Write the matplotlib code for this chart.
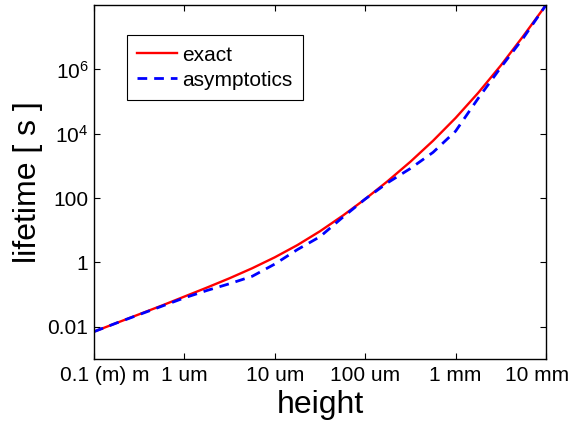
import numpy as np
import matplotlib
matplotlib.use('Agg')
import matplotlib.pyplot as plt
from matplotlib.transforms import ScaledTranslation

plt.rcParams['font.family'] = ['Liberation Sans', 'DejaVu Sans']
plt.rcParams['mathtext.fontset'] = 'custom'
plt.rcParams['mathtext.rm'] = 'Liberation Sans'
plt.rcParams['mathtext.it'] = 'Liberation Sans'

# log10 of height [m], sampled every quarter decade
height_exp = [-7.00, -6.75, -6.50, -6.25, -6.00, -5.75, -5.50, -5.25, -5.00, -4.75, -4.50,
              -4.25, -4.00, -3.75, -3.50, -3.25, -3.00, -2.75, -2.50, -2.25, -2.00]
# log10 of lifetime [s]
exact_exp = [-2.15, -1.88, -1.61, -1.34, -1.06, -0.78, -0.49, -0.18, 0.16, 0.54, 0.97,
             1.45, 1.97, 2.53, 3.13, 3.78, 4.49, 5.27, 6.12, 7.04, 8.00]
asym_exp = [-2.15, -1.88, -1.62, -1.36, -1.10, -0.87, -0.66, -0.43, -0.05, 0.40, 0.80,
            1.40, 1.97, 2.48, 2.92, 3.42, 4.08, 5.10, 6.06, 6.98, 8.00]

xtick_vals = [1e-7, 1e-6, 1e-5, 1e-4, 1e-3, 1e-2]
xtick_labels = ['0.1 (m) m', '1 um', '10 um', '100 um', '1 mm', '10 mm']
ytick_vals = [1e-2, 1, 1e2, 1e4, 1e6]
ytick_labels = ['0.01', '1', '100', '$10^4$', '$10^6$']

h = 10.0 ** np.array(height_exp)
t_exact = 10.0 ** np.array(exact_exp)
t_asym = 10.0 ** np.array(asym_exp)

fig = plt.figure(figsize=(5.78, 4.21), dpi=100)
ax = fig.add_axes([94/578, 1 - 359/421, 452/578, 354/421])

ax.loglog(h, t_exact, color='red', lw=1.7, label='exact')
ax.loglog(h, t_asym, color='blue', lw=2.0, ls=(0, (3.5, 2.5)), label='asymptotics')

ax.set_xlim(1e-7, 1e-2)
ax.set_ylim(1e-3, 1e8)
ax.set_xticks(xtick_vals)
ax.set_xticklabels(xtick_labels)
ax.set_yticks(ytick_vals)
ax.set_yticklabels(ytick_labels)
ax.minorticks_off()
ax.tick_params(direction='in', top=True, right=True, length=4, width=0.8,
               labelsize=15, pad=5)
ax.tick_params(axis='y', pad=4)
for s in ax.spines.values():
    s.set_linewidth(1.0)

# keep the end labels inside the figure
lbls = ax.get_xticklabels()
lbls[0].set_transform(lbls[0].get_transform() + ScaledTranslation(0.11, 0, fig.dpi_scale_trans))
lbls[-1].set_transform(lbls[-1].get_transform() + ScaledTranslation(-0.09, 0, fig.dpi_scale_trans))

ax.set_xlabel('height', fontsize=23, labelpad=4)
ax.set_ylabel('lifetime [ s ]', fontsize=23, labelpad=3)

leg = ax.legend(loc='upper left', bbox_to_anchor=(0.073, 0.915), borderaxespad=0,
                fontsize=15, fancybox=False, edgecolor='black', framealpha=1,
                handlelength=1.9, handletextpad=0.25, labelspacing=0.3, borderpad=0.5)
leg.get_frame().set_linewidth(0.8)

fig.savefig('out.png', dpi=100)
